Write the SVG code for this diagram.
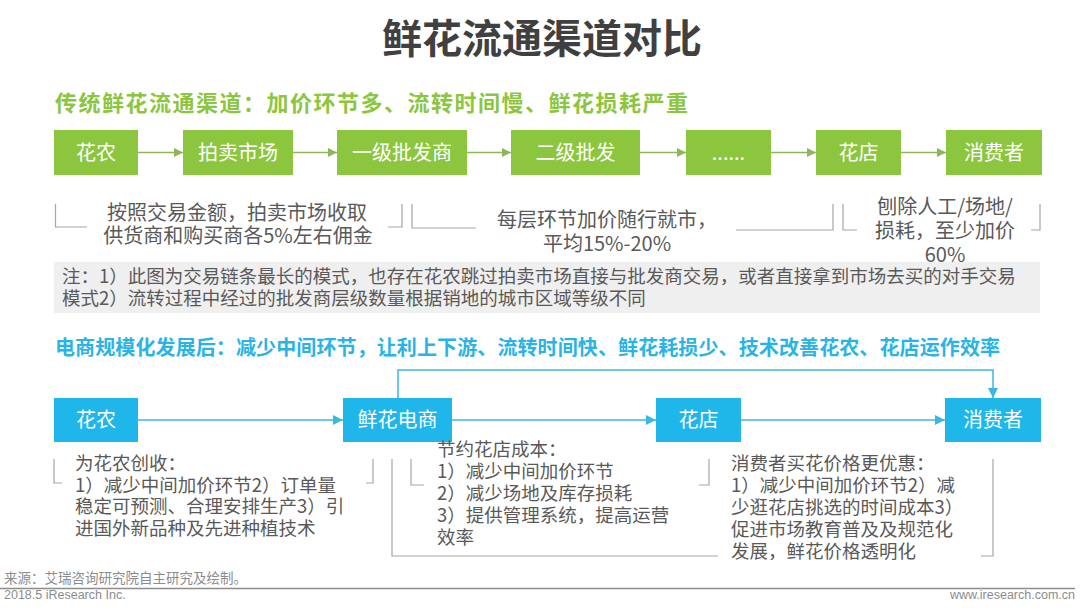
<svg xmlns="http://www.w3.org/2000/svg" width="1080" height="611" viewBox="0 0 1080 611">
<defs>
<style>
.cjk{font-family:"Noto Sans CJK SC","Microsoft YaHei",sans-serif}
.title{font-size:40px;font-weight:bold;fill:#404040}
.sub-g{font-size:22px;font-weight:bold;fill:#8cc63f}
.sub-b{font-size:20px;font-weight:bold;fill:#29b3e6}
.gbox{fill:#8cc63f}
.bbox{fill:#1fb6ea}
.btxt{font-size:20px;fill:#ffffff;text-anchor:middle}
.ann{font-size:20px;fill:#595959;text-anchor:middle}
.note{font-size:18.5px;fill:#595959}
.low{font-size:18.5px;fill:#595959}
.brk{fill:none;stroke:#a6a6a6;stroke-width:1.2}
.garr{fill:none;stroke:#8db65a;stroke-width:1.5}
.barr{fill:none;stroke:#3cb6e3;stroke-width:1.5}
.foot{font-size:13.5px;fill:#8c8c8c}
.en{font-family:"Liberation Sans",Arial,sans-serif;font-size:12.5px;fill:#8c8c8c}
</style>
<marker id="ga" viewBox="0 0 10 10" refX="10" refY="5" markerWidth="9" markerHeight="9" markerUnits="userSpaceOnUse" orient="auto">
<path d="M0,0 L10,5 L0,10 z" fill="#8db65a"/>
</marker>
<marker id="ba" viewBox="0 0 10 10" refX="10" refY="5" markerWidth="10" markerHeight="10" markerUnits="userSpaceOnUse" orient="auto">
<path d="M0,0 L10,5 L0,10 z" fill="#3cb6e3"/>
</marker>
</defs>
<rect width="1080" height="611" fill="#ffffff"/>

<text class="cjk title" x="542" y="53" text-anchor="middle">鲜花流通渠道对比</text>
<text class="cjk sub-g" x="55" y="111" textLength="633" lengthAdjust="spacing">传统鲜花流通渠道：加价环节多、流转时间慢、鲜花损耗严重</text>

<g id="connectors">
<line class="garr" x1="138" y1="152.5" x2="183" y2="152.5" marker-end="url(#ga)"/>
<line class="garr" x1="293" y1="152.5" x2="337" y2="152.5" marker-end="url(#ga)"/>
<line class="garr" x1="467" y1="152.5" x2="511" y2="152.5" marker-end="url(#ga)"/>
<line class="garr" x1="640" y1="152.5" x2="686" y2="152.5" marker-end="url(#ga)"/>
<line class="garr" x1="771" y1="152.5" x2="816" y2="152.5" marker-end="url(#ga)"/>
<line class="garr" x1="901" y1="152.5" x2="946" y2="152.5" marker-end="url(#ga)"/>
<line class="barr" x1="138" y1="420" x2="343" y2="420" marker-end="url(#ba)"/>
<line class="barr" x1="452" y1="420" x2="656" y2="420" marker-end="url(#ba)"/>
<line class="barr" x1="741" y1="420" x2="945" y2="420" marker-end="url(#ba)"/>
<polyline class="barr" points="398,398 398,370 993,370 993,398" marker-end="url(#ba)"/>
</g>

<g id="t-huanong"><rect class="gbox" x="54" y="130" width="84" height="45"/><text class="cjk btxt" x="96" y="160">花农</text></g>
<g id="t-paimai"><rect class="gbox" x="183" y="130" width="110" height="45"/><text class="cjk btxt" x="238" y="160">拍卖市场</text></g>
<g id="t-yiji"><rect class="gbox" x="337" y="130" width="130" height="45"/><text class="cjk btxt" x="402" y="160">一级批发商</text></g>
<g id="t-erji"><rect class="gbox" x="511" y="130" width="129" height="45"/><text class="cjk btxt" x="575.5" y="160">二级批发</text></g>
<g id="t-dots"><rect class="gbox" x="686" y="130" width="85" height="45"/><text class="cjk btxt" x="728.5" y="160">......</text></g>
<g id="t-huadian"><rect class="gbox" x="816" y="130" width="85" height="45"/><text class="cjk btxt" x="858.5" y="160">花店</text></g>
<g id="t-xiaofei"><rect class="gbox" x="946" y="130" width="96" height="45"/><text class="cjk btxt" x="994" y="160">消费者</text></g>

<g id="t-brackets">
<polyline class="brk" points="55.5,204 55.5,227 87,227"/>
<polyline class="brk" points="388,227 402,227 402,204"/>
<polyline class="brk" points="412,204 412,228 476,228"/>
<polyline class="brk" points="736,230 833,230 833,204"/>
<polyline class="brk" points="843,204 843,230 857,230"/>
<polyline class="brk" points="1031,230 1040,230 1040,204"/>
</g>

<g id="ann-auction">
<text class="cjk ann" x="237" y="220">按照交易金额，拍卖市场收取</text>
<text class="cjk ann" x="238" y="243">供货商和购买商各5%左右佣金</text>
</g>
<g id="ann-markup">
<text class="cjk ann" x="607" y="227">每层环节加价随行就市，</text>
<text class="cjk ann" x="607" y="251">平均15%-20%</text>
</g>
<g id="ann-shop">
<text class="cjk ann" x="945" y="214">刨除人工/场地/</text>
<text class="cjk ann" x="945" y="238">损耗，至少加价</text>
<text class="cjk ann" x="945" y="262">60%</text>
</g>

<g id="note">
<rect x="54" y="262" width="986" height="51" fill="#efefef"/>
<text class="cjk note" x="62" y="283">注：1）此图为交易链条最长的模式，也存在花农跳过拍卖市场直接与批发商交易，或者直接拿到市场去买的对手交易</text>
<text class="cjk note" x="62" y="305">模式2）流转过程中经过的批发商层级数量根据销地的城市区域等级不同</text>
</g>

<text class="cjk sub-b" x="55" y="355" textLength="945" lengthAdjust="spacing">电商规模化发展后：减少中间环节，让利上下游、流转时间快、鲜花耗损少、技术改善花农、花店运作效率</text>

<g id="e-huanong"><rect class="bbox" x="54" y="398" width="84" height="44"/><text class="cjk btxt" x="96" y="427">花农</text></g>
<g id="e-dianshang"><rect class="bbox" x="343" y="398" width="109" height="44"/><text class="cjk btxt" x="397.5" y="427">鲜花电商</text></g>
<g id="e-huadian"><rect class="bbox" x="656" y="398" width="85" height="44"/><text class="cjk btxt" x="698.5" y="427">花店</text></g>
<g id="e-xiaofei"><rect class="bbox" x="945" y="398" width="96" height="44"/><text class="cjk btxt" x="993" y="427">消费者</text></g>

<g id="e-brackets">
<polyline class="brk" points="54,459 54,483 62,483"/>
<polyline class="brk" points="366,483 373,483 373,459"/>
<polyline class="brk" points="392,459 392,556 718,556"/>
<polyline class="brk" points="411,459 411,485 424,485"/>
<polyline class="brk" points="699,485 709,485 709,459"/>
<polyline class="brk" points="993,459 993,556 981,556"/>
</g>

<g id="ann-farmer">
<text class="cjk low" x="75" y="470">为花农创收：</text>
<text class="cjk low" x="75" y="491.5">1）减少中间加价环节2）订单量</text>
<text class="cjk low" x="75" y="513">稳定可预测、合理安排生产3）引</text>
<text class="cjk low" x="75" y="534.5">进国外新品种及先进种植技术</text>
</g>
<g id="ann-florist">
<text class="cjk low" x="437" y="456">节约花店成本：</text>
<text class="cjk low" x="437" y="478">1）减少中间加价环节</text>
<text class="cjk low" x="437" y="500">2）减少场地及库存损耗</text>
<text class="cjk low" x="437" y="522">3）提供管理系统，提高运营</text>
<text class="cjk low" x="437" y="544">效率</text>
</g>
<g id="ann-consumer">
<text class="cjk low" x="731" y="470">消费者买花价格更优惠：</text>
<text class="cjk low" x="731" y="492">1）减少中间加价环节2）减</text>
<text class="cjk low" x="731" y="514">少逛花店挑选的时间成本3）</text>
<text class="cjk low" x="731" y="536">促进市场教育普及及规范化</text>
<text class="cjk low" x="731" y="558">发展，鲜花价格透明化</text>
</g>

<g id="footer">
<text class="cjk foot" x="4" y="583">来源：艾瑞咨询研究院自主研究及绘制。</text>
<line x1="0" y1="588.5" x2="1075" y2="588.5" stroke="#8c8c8c" stroke-width="1.5"/>
<text class="en" x="4" y="599">2018.5 iResearch Inc.</text>
<text class="en" x="1075" y="599" text-anchor="end">www.iresearch.com.cn</text>
</g>
</svg>
